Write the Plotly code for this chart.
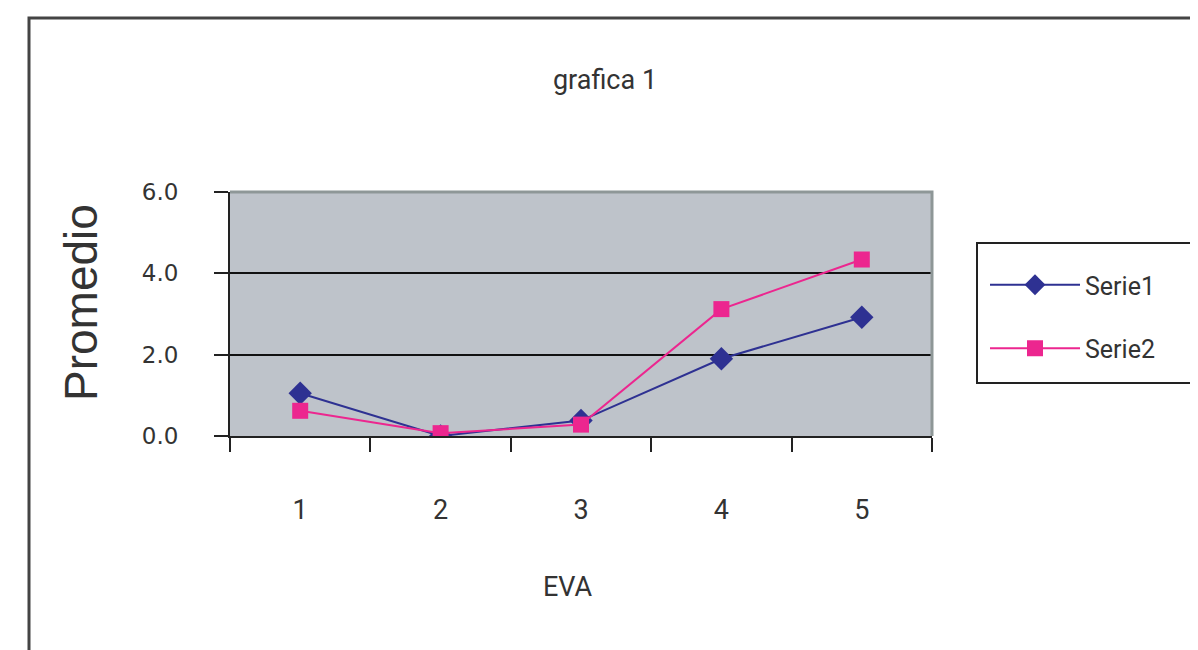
import plotly.graph_objects as go

categories = ["1", "2", "3", "4", "5"]
serie1 = [1.05, 0.0, 0.38, 1.9, 2.92]
serie2 = [0.62, 0.07, 0.28, 3.12, 4.34]
y_ticks = [0, 2, 4, 6]
y_tick_labels = ["0.0", "2.0", "4.0", "6.0"]

W, H = 1198, 650
OFF = 8  # page body offset
PL, PR, PT, PB = 230, 932, 192, 436  # target plot area on screen
pw, ph = PR - PL, PB - PT
L, T = PL - OFF, PT - OFF
R = W - L - pw
B = H - T - ph

def px_x(p):
    return (p - PL) / pw

def px_y(p):
    return (PB - p) / ph

fig = go.Figure()
fig.add_trace(go.Scatter(
    x=categories, y=serie1, name="Serie1", mode="lines+markers",
    line=dict(color="#2E3192", width=2),
    marker=dict(symbol="diamond", size=18, color="#2E3192"),
    legendgroup="a",
))
fig.add_trace(go.Scatter(
    x=categories, y=serie2, name="Serie2", mode="lines+markers",
    line=dict(color="#EC268F", width=2),
    marker=dict(symbol="square", size=16, color="#EC268F"),
    legendgroup="b",
))

txt = "#333333"
fig.update_layout(
    width=W, height=H,
    margin=dict(l=L, r=R, t=T, b=B, autoexpand=False),
    paper_bgcolor="white",
    plot_bgcolor="#BEC3CA",
    font=dict(family="Roboto", color=txt),
    title=dict(text="grafica 1", x=px_x(605), xref="paper", xanchor="center",
               y=1 - (80 - OFF) / H, yref="container", yanchor="middle",
               font=dict(family="Roboto", size=27, color=txt)),
    xaxis=dict(
        type="category", tickson="boundaries", ticks="outside", ticklen=14,
        tickwidth=2, tickcolor="#222", showline=True, linecolor="#222", linewidth=2,
        showgrid=False, tickfont=dict(family="Roboto", size=27, color=txt),
        ticklabelstandoff=49, range=[-0.5, 4.5], fixedrange=True,
    ),
    yaxis=dict(
        range=[0, 6], tickvals=y_ticks, ticktext=y_tick_labels,
        ticks="outside", ticklen=14, tickwidth=2, tickcolor="#222",
        showline=True, linecolor="#222", linewidth=2,
        showgrid=True, gridcolor="#111", gridwidth=2, zeroline=False,
        tickfont=dict(family="DejaVu Sans", size=23, color=txt),
        ticklabelstandoff=31,
    ),
    showlegend=True,
    legend=dict(
        x=px_x(985), y=px_y(262), xanchor="left", yanchor="top",
        xref="paper", yref="paper",
        borderwidth=0, bgcolor="rgba(0,0,0,0)",
        font=dict(family="Roboto", size=25, color=txt),
        tracegroupgap=28, itemwidth=90,
    ),
    annotations=[
        dict(text="Promedio", x=px_x(81), y=px_y(303), xref="paper", yref="paper",
             textangle=-90, showarrow=False, xanchor="center", yanchor="middle",
             font=dict(family="Liberation Sans", size=46, color=txt)),
        dict(text="EVA", x=px_x(568), y=px_y(587), xref="paper", yref="paper",
             showarrow=False, xanchor="center", yanchor="middle",
             font=dict(family="Roboto", size=27, color=txt)),
    ],
    shapes=[
        dict(type="path", path="M 0 1 L 1 1 L 1 0", xref="paper", yref="paper",
             line=dict(color="#8E9797", width=3), layer="above"),
        dict(type="rect", x0=px_x(29), x1=px_x(1300), y0=px_y(760), y1=px_y(18),
             xref="paper", yref="paper", line=dict(color="#444444", width=3),
             layer="below"),
        dict(type="rect", x0=px_x(977), x1=px_x(1300), y0=px_y(383), y1=px_y(243),
             xref="paper", yref="paper", line=dict(color="#222222", width=2),
             fillcolor="white", layer="below"),
    ],
)

fig.write_html("out.html")
